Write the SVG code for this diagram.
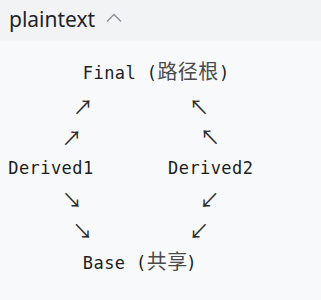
<svg xmlns="http://www.w3.org/2000/svg" width="321" height="300" viewBox="0 0 321 300">
  <style>
    .mono { font-family: "DejaVu Sans Mono", "Liberation Mono", monospace; font-size: 17px; letter-spacing: 0.42px; fill: #1a1d21; }
    .cjk { font-family: "Noto Sans CJK SC", "Noto Sans CJK JP", sans-serif; font-size: 20px; fill: #4a4a4a; }
    .arr { font-family: "Noto Sans CJK SC", "Noto Sans CJK JP", sans-serif; font-size: 20px; fill: #2a2a2a; text-anchor: middle; }
    .hdr { font-family: "Noto Sans", "Open Sans", sans-serif; font-size: 21px; fill: #1f2328; }
  </style>
  <rect x="0" y="0" width="321" height="300" fill="#f8f9fb"/>
  <g id="header">
    <rect x="0" y="0" width="321" height="40.7" fill="#f2f3f5"/>
    <text class="hdr" x="9" y="26.5">plaintext</text>
    <polyline points="107,21.5 114,14.5 121,21.5" fill="none" stroke="#8a8f98" stroke-width="1.4"/>
  </g>
  <g id="node-final">
    <text class="mono" y="79.3"><tspan x="82.85">Final</tspan><tspan x="146.75">(</tspan><tspan class="cjk" x="157.4">路径根</tspan><tspan x="219">)</tspan></text>
  </g>
  <g id="node-derived1">
    <text class="mono" x="8.3" y="173.95">Derived1</text>
  </g>
  <g id="node-derived2">
    <text class="mono" x="168.1" y="173.95">Derived2</text>
  </g>
  <g id="node-base">
    <text class="mono" y="268.6"><tspan x="82.85">Base</tspan><tspan x="136.1">(</tspan><tspan class="cjk" x="146.75">共享</tspan><tspan x="186.3">)</tspan></text>
  </g>
  <g id="connectors">
    <text class="arr" x="83" y="114.6">↗</text>
    <text class="arr" x="71.7" y="145.5">↗</text>
    <text class="arr" x="199" y="114.8">↖</text>
    <text class="arr" x="210" y="145.3">↖</text>
    <text class="arr" x="72" y="208.3">↘</text>
    <text class="arr" x="82.5" y="239.3">↘</text>
    <text class="arr" x="209.5" y="208.3">↙</text>
    <text class="arr" x="199" y="239.3">↙</text>
  </g>
</svg>
